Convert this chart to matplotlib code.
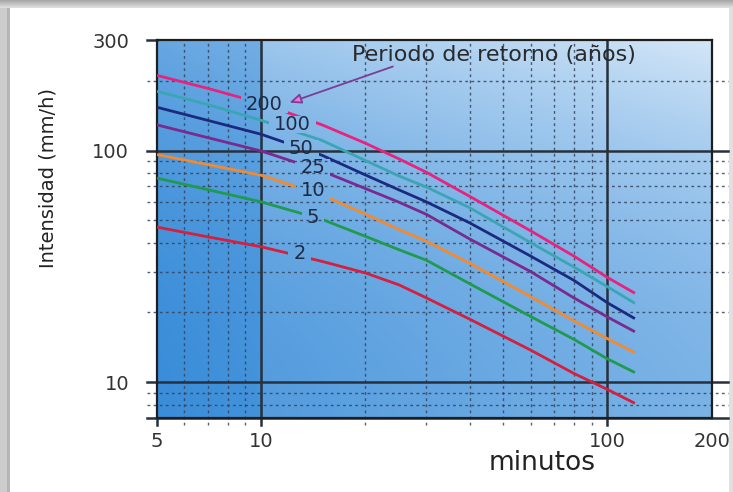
import numpy as np
import matplotlib
matplotlib.use('Agg')
import matplotlib.pyplot as plt
from matplotlib.path import Path
from matplotlib.transforms import IdentityTransform
from matplotlib.ticker import NullLocator

# ---------------- data ----------------
DURATIONS = [5, 7, 10, 15, 20, 25, 30, 40, 60, 80, 100, 120]      # minutos
RETURN_PERIODS = [200, 100, 50, 25, 10, 5, 2]                       # años
I_T200 = [211, 185.6, 160, 129, 107.5, 92.0, 80.5, 63.4, 45.0, 35.0, 28.3, 24.2]
I_T100 = [180, 158, 135, 110.5, 90.5, 77.6, 69.5, 56.6, 40.0, 31.4, 25.8, 21.9]
I_T50 = [153.7, 135, 117.5, 95.3, 78.4, 67.6, 60.0, 48.7, 35.0, 27.5, 22.0, 18.8]
I_T25 = [129, 113.7, 99.5, 81.5, 68.5, 59.8, 53.0, 41.5, 30.0, 23.1, 19.1, 16.5]
I_T10 = [96, 87.0, 78.2, 64.2, 53.1, 45.6, 40.6, 32.6, 23.4, 18.4, 15.4, 13.4]
I_T5 = [76, 67.8, 60.0, 50.4, 42.6, 37.3, 33.6, 26.6, 19.2, 15.3, 12.6, 11.0]
I_T2 = [46.7, 42.4, 38.4, 33.2, 29.6, 26.3, 23.1, 18.7, 13.75, 10.9, 9.3, 8.1]
SERIES = [I_T200, I_T100, I_T50, I_T25, I_T10, I_T5, I_T2]
LABEL_DUR = [10.2, 12.3, 13.05, 14.1, 14.1, 14.1, 12.9]
LABEL_INT = [157.5, 129, 101.7, 84.2, 67.2, 51.6, 36.0]
X_TICKS = [5, 10, 100, 200]
X_TICKLABELS = ['5', '10', '100', '200']
Y_TICKS = [10, 100, 300]
Y_TICKLABELS = ['10', '100', '300']
TITLE = 'Periodo de retorno (años)'
XLABEL = 'minutos'
YLABEL = 'Intensidad (mm/h)'

# ---------------- styles ----------------
COLORS = ['#e8237d', '#3aa6b4', '#1b2a80', '#7a2a8e', '#f08a33', '#1f9a4e', '#d41f3d']
GRID_X_MINOR = [6, 7, 8, 9, 20, 30, 40, 50, 60, 70, 80, 90]
GRID_Y_MINOR = [8, 9, 20, 30, 40, 50, 60, 70, 80, 90, 200]
GRID_MAJOR_X = [10, 100]
GRID_MAJOR_Y = [10, 100]

W, H = 733, 492
fig = plt.figure(figsize=(W / 100, H / 100), dpi=100)

# picture frame shadow
bg = np.ones((H, W, 3))
ys = np.arange(H)
bg[:, :7, :] = 0.80
bg[:, 7:10, :] = 0.71
bg[:8, :, :] = (0.66 + 0.03 * ys[:8])[:, None, None]
bg[:, W - 4:, :] = np.minimum(bg[:, W - 4:, :], 0.88)
fig.figimage(bg, xo=0, yo=0, origin='upper', zorder=-10)

rect = [157 / W, 1 - 418 / H, (711.7 - 157) / W, (418 - 40) / H]

# gradient background of plotting area
bgax = fig.add_axes(rect, zorder=0)
u = np.linspace(0, 1, 400)
v = np.linspace(0, 1, 300)
U, V = np.meshgrid(u, v)
V2 = V ** 2
step = (U > 0.19).astype(float)
t = 0.307 * U + 0.277 * V2 + 0.1216 * U * V2 + step * (0.103 + 0.151 * V2)
t = np.clip(t, 0, 1)
dark = np.array([58, 141, 217]) / 255
light = np.array([218, 234, 249]) / 255
img = dark + t[..., None] * (light - dark)
bgax.imshow(img, extent=(0, 1, 0, 1), origin='lower', aspect='auto', interpolation='bilinear')
bgax.set_xlim(0, 1)
bgax.set_ylim(0, 1)
bgax.axis('off')

ax = fig.add_axes(rect, zorder=1)
ax.patch.set_alpha(0)
ax.set_xscale('log')
ax.set_yscale('log')
ax.set_xlim(5, 200)
ax.set_ylim(7, 300)

dot_kw = dict(color='#33435e', lw=1.0, ls=(0, (2, 2.4)), alpha=0.85, clip_on=False, zorder=2)
ext_l, ext_r, ext_b = -0.018, 1.029, -0.019
for yv in GRID_Y_MINOR:
    ax.axhline(yv, xmin=ext_l, xmax=ext_r, **dot_kw)
for xv in GRID_X_MINOR:
    ax.axvline(xv, ymin=ext_b, ymax=1, **dot_kw)
maj_kw = dict(color='#27303c', lw=1.8, clip_on=False, zorder=3)
for yv in GRID_MAJOR_Y:
    ax.axhline(yv, xmin=ext_l, xmax=ext_r, **maj_kw)
for xv in GRID_MAJOR_X:
    ax.axvline(xv, ymin=ext_b, ymax=1, **maj_kw)
# frame extensions
ax.axhline(7, xmin=ext_l, xmax=ext_r, **maj_kw)
ax.axhline(300, xmin=ext_l, xmax=0, **maj_kw)
ax.axvline(5, ymin=ext_b, ymax=0, **maj_kw)
for s in ax.spines.values():
    s.set_color('#1e1e1e')
    s.set_linewidth(1.6)
    s.set_zorder(3)

lines = []
for vals, c in zip(SERIES, COLORS):
    ln, = ax.plot(DURATIONS, vals, color=c, lw=2.0, zorder=4,
                  solid_capstyle='butt', solid_joinstyle='round')
    lines.append(ln)

labels = []
for T, lx, ly in zip(RETURN_PERIODS, LABEL_DUR, LABEL_INT):
    labels.append(ax.text(lx, ly, str(T), ha='center', va='center', fontsize=14,
                          color='#1f2a44', zorder=6))

ax.text(18.25, 257.5, TITLE, ha='left', va='center', fontsize=16, color='#2a2a2a', zorder=6)
ax.annotate('', xy=(12.07, 161), xytext=(24, 230.5),
            arrowprops=dict(arrowstyle='-|>,head_length=0.7,head_width=0.3',
                            ec='#7a3d98', fc='#f07ad0', lw=1.3, shrinkA=0, shrinkB=0),
            zorder=6)

ax.xaxis.set_minor_locator(NullLocator())
ax.yaxis.set_minor_locator(NullLocator())
ax.set_xticks(X_TICKS, X_TICKLABELS)
ax.set_yticks(Y_TICKS, Y_TICKLABELS)
ax.tick_params(axis='both', length=0, labelsize=14, labelcolor='#333333')
ax.tick_params(axis='y', pad=20)
ax.tick_params(axis='x', pad=10)

ax.set_xlabel(XLABEL, fontsize=19, color='#222222')
ax.xaxis.set_label_coords(0.695, -0.119)
ax.xaxis.label.set_va('center')

ax.set_ylabel(YLABEL, fontsize=14, color='#222222')
ax.yaxis.set_label_coords(-0.1965, 0.6336)
ax.yaxis.label.set_va('center')

# gaps in the curves where the labels sit
fig.canvas.draw()
renderer = fig.canvas.get_renderer()
bb = ax.bbox
verts = [(bb.x0, bb.y0), (bb.x1, bb.y0), (bb.x1, bb.y1), (bb.x0, bb.y1), (bb.x0, bb.y0)]
codes = [Path.MOVETO, Path.LINETO, Path.LINETO, Path.LINETO, Path.CLOSEPOLY]
for lab in labels:
    e = lab.get_window_extent(renderer)
    x0, x1, y0, y1 = e.x0 - 5, e.x1 + 5, e.y0 + 1, e.y1 - 1
    verts += [(x0, y0), (x0, y1), (x1, y1), (x1, y0), (x0, y0)]
    codes += [Path.MOVETO, Path.LINETO, Path.LINETO, Path.LINETO, Path.CLOSEPOLY]
clip = Path(verts, codes)
for ln in lines:
    ln.set_clip_path(clip, IdentityTransform())

fig.savefig('out.png', dpi=100)
